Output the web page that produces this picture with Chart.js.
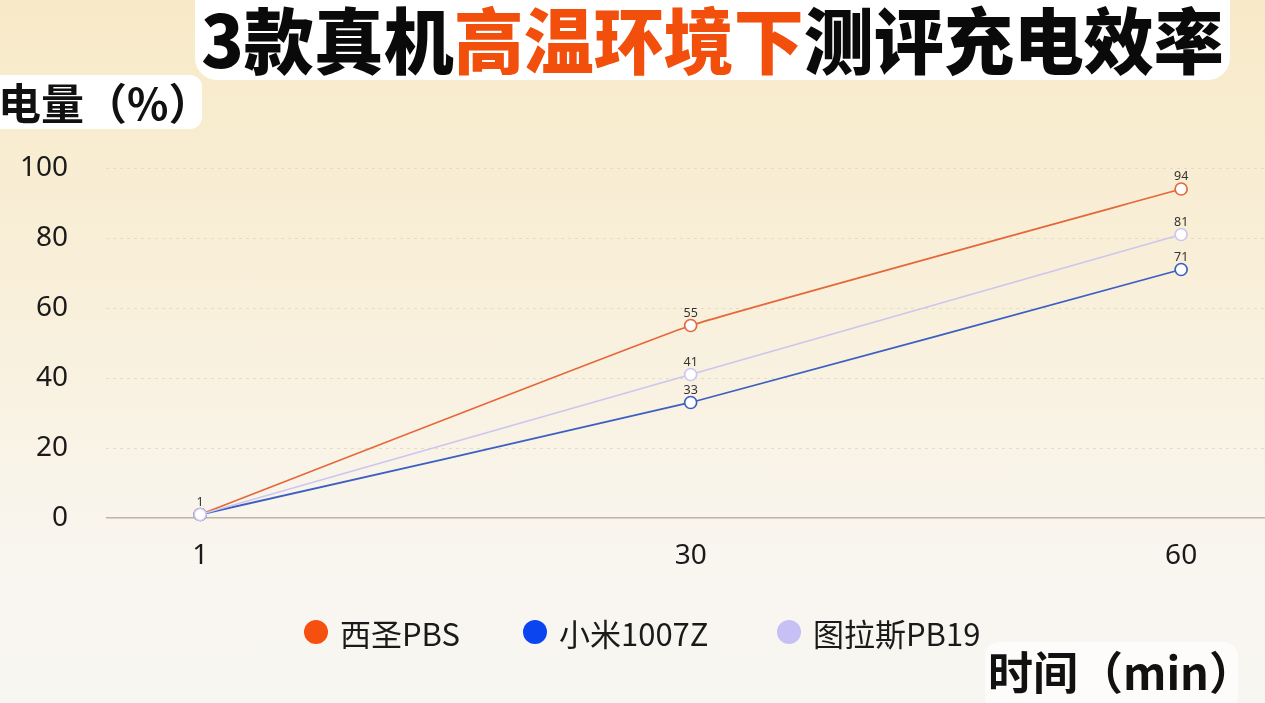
<!DOCTYPE html>
<html lang="zh">
<head>
<meta charset="utf-8">
<title>3款真机高温环境下测评充电效率</title>
<script src="https://cdn.jsdelivr.net/npm/chart.js@4.4.1/dist/chart.umd.min.js"></script>
<style>
  html, body { margin: 0; padding: 0; }
  body {
    width: 1265px; height: 703px; overflow: hidden; position: relative;
    background: linear-gradient(to bottom, #f8eac8 0%, #f9f0dc 45%, #f9f6f0 80%, #f8f6f2 100%);
    font-family: "Noto Sans CJK SC", "Noto Sans", sans-serif;
  }
  #chart-wrap { position: absolute; left: 0; top: 0; width: 1265px; height: 703px; }
  .title-box {
    position: absolute; left: 195px; top: -20px; width: 1035px; height: 100px;
    background: #fff; border-radius: 22px;
    font-size: 70px; font-weight: 900; color: #0a0a0a; white-space: nowrap;
    text-align: center; line-height: 1; box-sizing: border-box;
  }
  .title-box span.t { display: inline-block; margin-top: 22px; transform: scaleY(1.03); }
  .title-box .hl { color: #f24e0c; }
  .y-title {
    position: absolute; left: -20px; top: 75px; width: 222px; height: 54px;
    background: #fff; border-radius: 12px;
    font-size: 43px; font-weight: 700; color: #111; line-height: 52px;
    padding-left: 18px; box-sizing: border-box; white-space: nowrap;
  }
  .x-title {
    position: absolute; left: 985px; top: 642px; width: 253px; height: 70px;
    background: #fdfcfa; border-radius: 14px;
    font-size: 45px; font-weight: 700; color: #111; line-height: 58px;
    padding-left: 3px; box-sizing: border-box; white-space: nowrap;
  }
  #legend { position: absolute; left: 0; top: 612px; width: 1265px; height: 40px; }
  .lg-item {
    position: absolute; top: 0; height: 40px;
    display: flex; align-items: center; font-size: 31px; color: #1a1a1a; white-space: nowrap;
  }
  .lg-dot { width: 24px; height: 24px; border-radius: 50%; margin-right: 12px; }
</style>
</head>
<body>
<div id="chart-wrap"><canvas id="chart"></canvas></div>
<div class="title-box"><span class="t">3款真机<span class="hl">高温环境下</span>测评充电效率</span></div>
<div class="y-title">电量（%）</div>
<div id="legend"></div>
<div class="x-title">时间（min）</div>
<script>
// categories (minutes) and battery level per model
const timeLabels = ['1', '30', '60'];
const seriesNames = ['西圣PBS', '小米1007Z', '图拉斯PB19'];
const xishengValues = [1, 55, 94];
const xiaomiValues = [1, 33, 71];
const tulasiValues = [1, 41, 81];
const yTicks = [0, 20, 40, 60, 80, 100];

const lineColors = ['#e4683a', '#3c5fc2', '#cdc6ef'];
const legendColors = ['#f5500f', '#0b45f0', '#c6c0f4'];
const legendLeft = [304, 523, 777];

function toPoints(values) {
    return values.map((v, i) => ({ x: i, y: v }));
}

const allSeries = [xishengValues, xiaomiValues, tulasiValues];

// draw small value labels above each point
const valueLabels = {
    id: 'valueLabels',
    afterDatasetsDraw(chart) {
        const ctx = chart.ctx;
        ctx.save();
        ctx.font = '12.5px "Noto Sans", sans-serif';
        ctx.fillStyle = '#333';
        ctx.textAlign = 'center';
        ctx.textBaseline = 'bottom';
        chart.data.datasets.forEach((ds, di) => {
            const meta = chart.getDatasetMeta(di);
            meta.data.forEach((pt, i) => {
                // first point is shared by all three, label once
                if (i === 0 && di !== 0) return;
                ctx.fillText(String(ds.data[i].y), pt.x, pt.y - 6);
            });
        });
        ctx.restore();
    }
};

const ctx = document.getElementById('chart').getContext('2d');
const chart = new Chart(ctx, {
    type: 'line',
    data: {
        datasets: allSeries.map((values, i) => ({
            label: seriesNames[i],
            data: toPoints(values),
            borderColor: lineColors[i],
            backgroundColor: '#ffffff',
            borderWidth: 1.8,
            pointRadius: 6,
            pointBorderWidth: 1.7,
            pointBackgroundColor: '#ffffff',
            pointBorderColor: lineColors[i],
            tension: 0.08,
            fill: false,
            clip: false
        })).reverse()
    },
    options: {
        responsive: true,
        maintainAspectRatio: false,
        animation: false,
        layout: { autoPadding: false, padding: { top: 168, right: 0, bottom: 125, left: 0 } },
        plugins: {
            legend: { display: false },
            tooltip: { enabled: false }
        },
        scales: {
            x: {
                type: 'linear',
                min: -0.192,
                max: 2.171,
                afterBuildTicks: (scale) => {
                    scale.ticks = timeLabels.map((_, i) => ({ value: i }));
                },
                afterFit: (scale) => {
                    scale.height = 60;
                    scale.paddingLeft = 0;
                    scale.paddingRight = 0;
                },
                ticks: {
                    padding: 21,
                    color: '#1a1a1a',
                    font: { size: 28, family: '"Noto Sans", sans-serif' },
                    callback: (v) => timeLabels[v]
                },
                grid: { display: false, drawTicks: false },
                border: { display: false }
            },
            y: {
                min: 0,
                max: 100,
                afterBuildTicks: (scale) => {
                    scale.ticks = yTicks.map(v => ({ value: v }));
                },
                afterFit: (scale) => { scale.width = 106; },
                ticks: {
                    padding: 38,
                    color: '#1a1a1a',
                    font: { size: 28, family: '"Noto Sans", sans-serif' }
                },
                grid: {
                    drawTicks: false,
                    color: (c) => c.tick && c.tick.value === 0 ? '#bbb4aa' : '#e4dbc8',
                    lineWidth: (c) => c.tick && c.tick.value === 0 ? 1.5 : 1
                },
                border: {
                    display: false,
                    dash: (c) => c.tick && c.tick.value === 0 ? [] : [3, 4]
                }
            }
        }
    },
    plugins: [valueLabels]
});

// html legend built from the series names
const legendEl = document.getElementById('legend');
seriesNames.forEach((name, i) => {
    const item = document.createElement('div');
    item.className = 'lg-item';
    item.style.left = legendLeft[i] + 'px';
    item.innerHTML = `<span class="lg-dot" style="background:${legendColors[i]}"></span>${name}`;
    legendEl.appendChild(item);
});
</script>
</body>
</html>
